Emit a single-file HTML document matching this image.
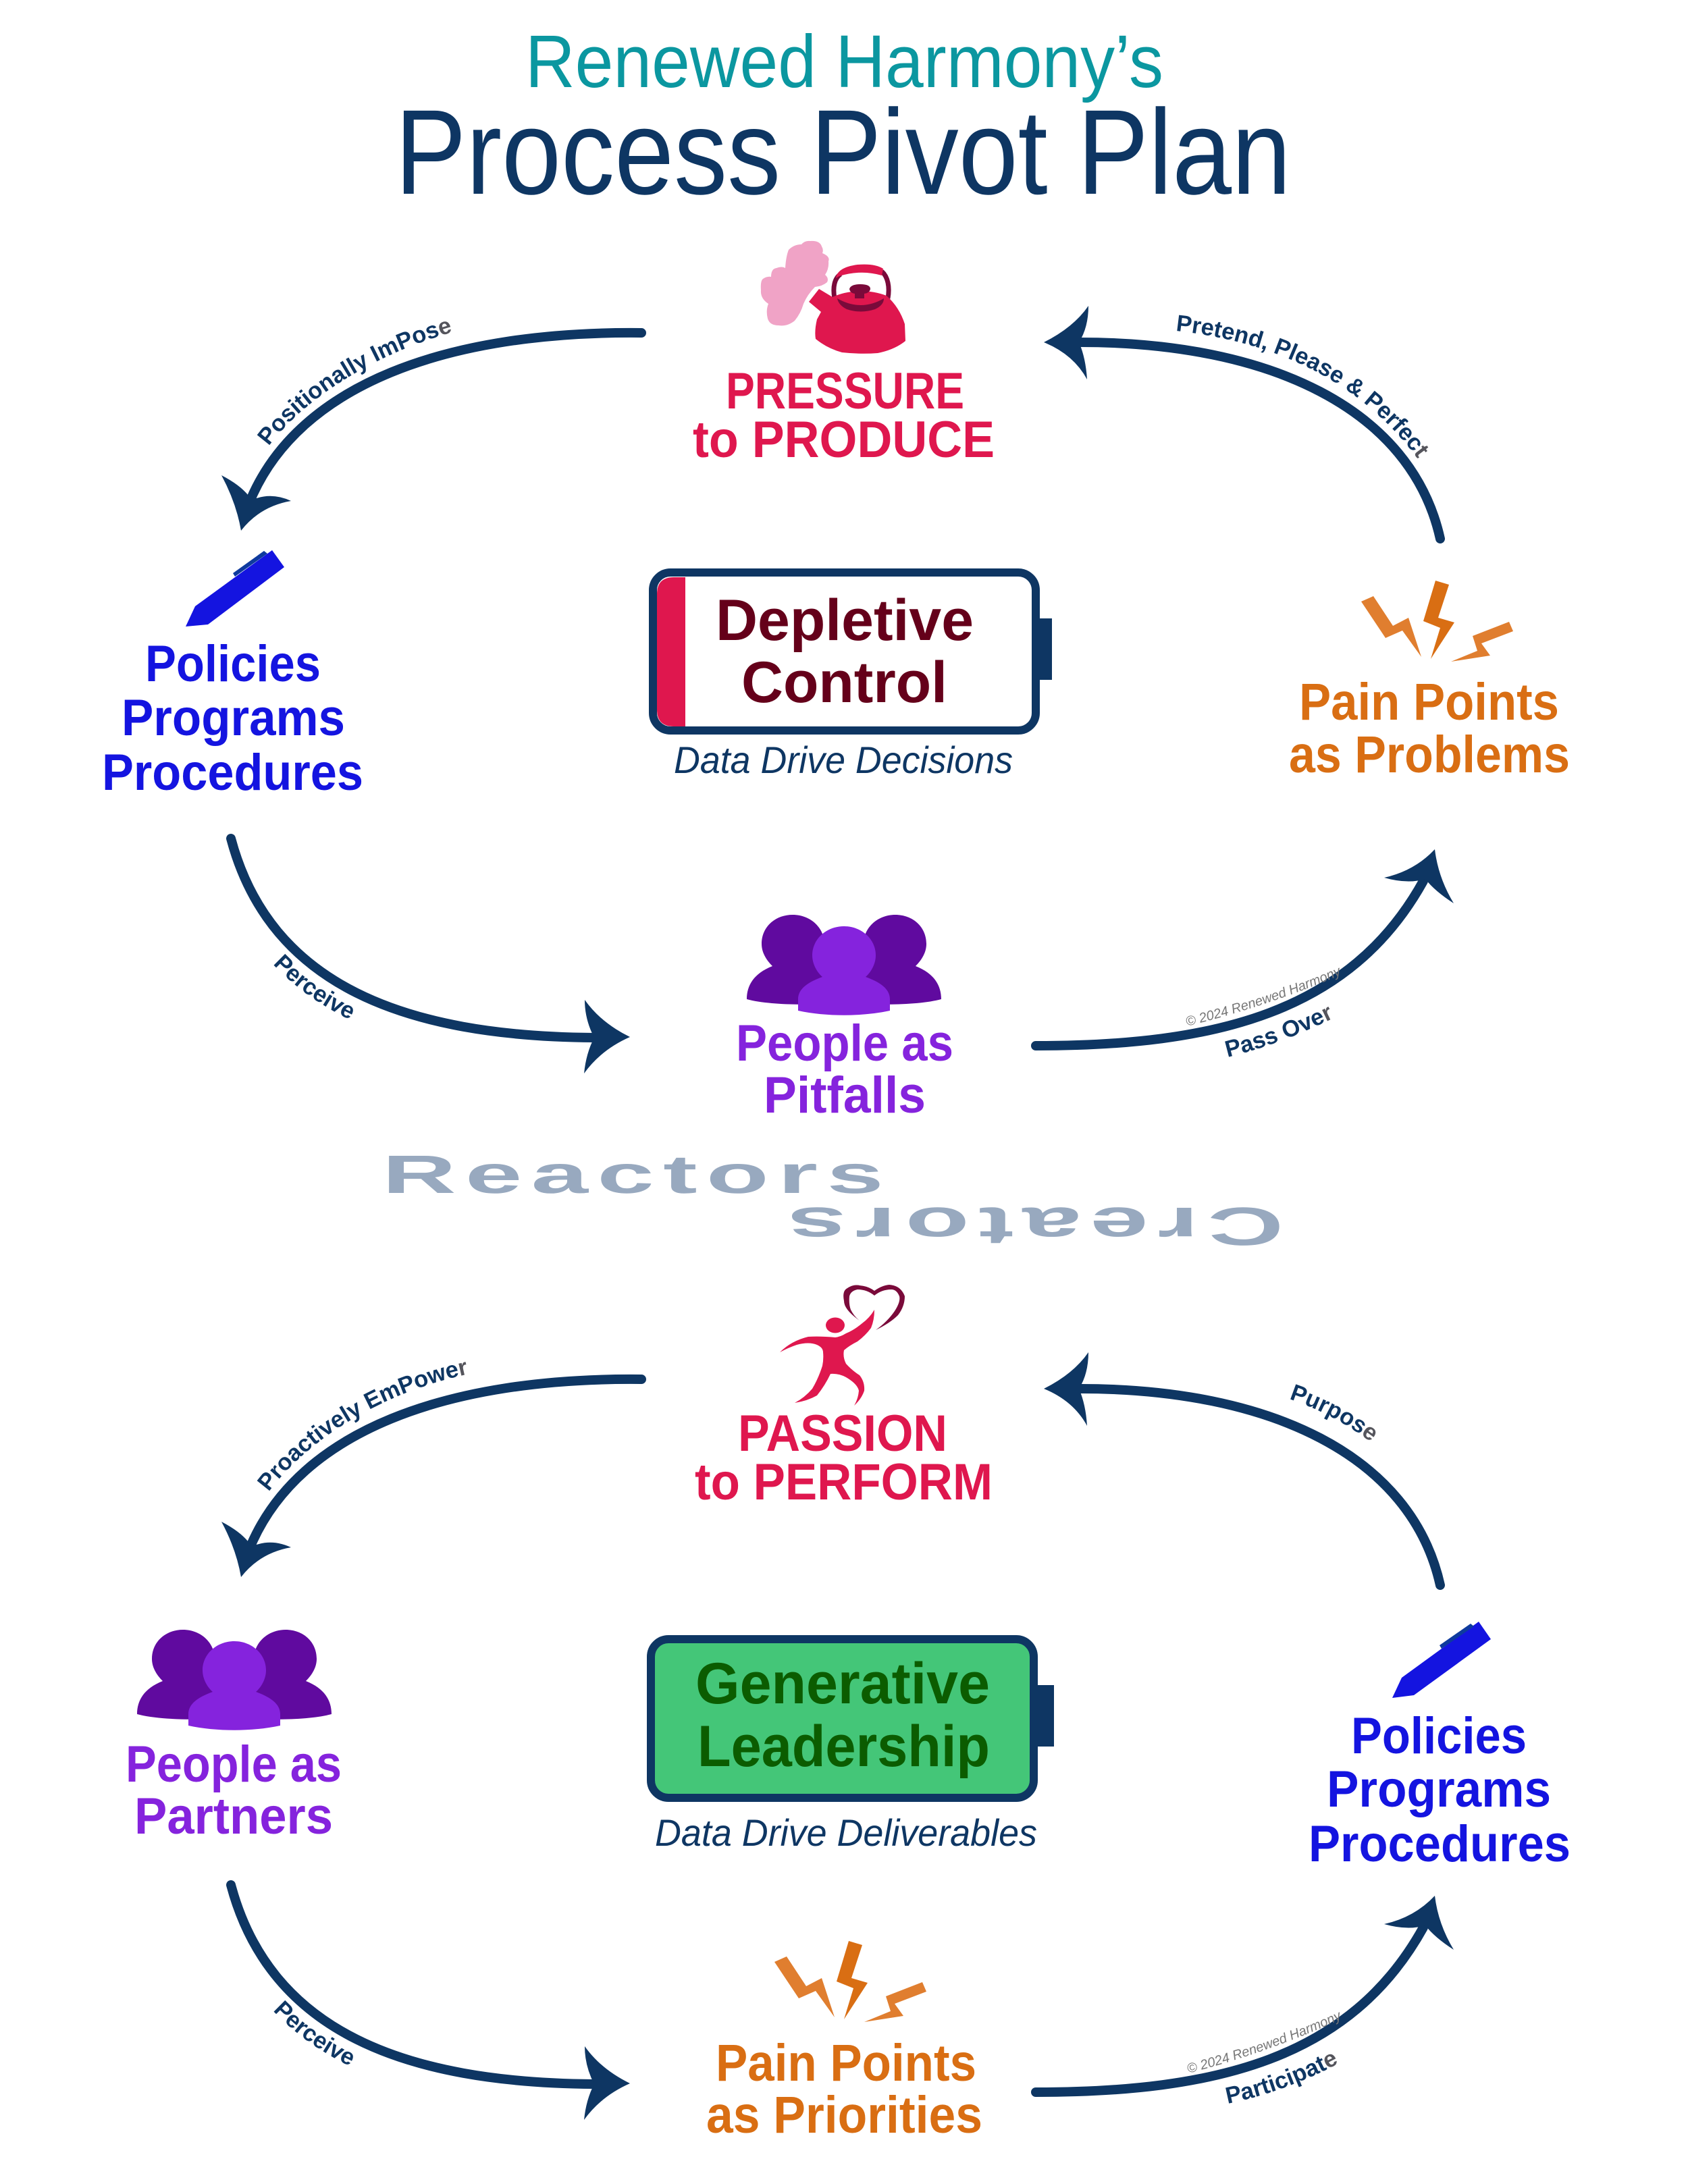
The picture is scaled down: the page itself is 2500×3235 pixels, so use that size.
<!DOCTYPE html>
<html>
<head>
<meta charset="utf-8">
<style>
html,body{margin:0;padding:0;background:#fff;width:2500px;height:3235px;overflow:hidden}
svg{display:block}
text{font-family:"Liberation Sans",sans-serif}
.b{font-weight:bold}
.lbl{font-weight:bold;font-size:34.5px;fill:#0E3663}
.g{fill:#55555c}
.cp{font-style:italic;font-size:20px;fill:#777}
.sub{font-style:italic;font-size:56px;fill:#0E3663}
.ls{letter-spacing:7px}
</style>
</head>
<body>
<svg width="2500" height="3235" viewBox="0 0 2500 3235" xmlns="http://www.w3.org/2000/svg">
<rect width="2500" height="3235" fill="#fff"/>
<defs>
  <g id="cycle">
    <g fill="none" stroke="#0E3663" stroke-width="14" stroke-linecap="round">
      <path d="M950,493 C660,490 445,570 372,738"/>
      <path d="M2133,798 C2090,605 1880,507 1600,507"/>
      <path d="M342,1242 C400,1460 600,1535 880,1537"/>
      <path d="M1534,1549 C1800,1549 2000,1500 2108,1305"/>
    </g>
    <g fill="#0E3663">
      <path d="M357,786 Q350,745 328,704 Q355,718 368,734 L380,738 Q405,730 431,742 Q385,750 357,786Z"/>
      <path d="M1546,507 Q1590,485 1612,453 Q1612,485 1598,507 Q1608,530 1610,562 Q1590,525 1546,507Z"/>
      <path d="M933,1536 Q890,1515 866,1481 Q866,1510 880,1537 Q868,1560 865,1590 Q890,1555 933,1536Z"/>
      <path d="M2125,1258 Q2095,1290 2050,1300 Q2085,1310 2111,1302 Q2125,1320 2153,1338 Q2130,1300 2125,1258Z"/>
    </g>
  </g>
  <g id="people">
    <g fill="#600A9F">
      <path d="M0,125 C0,105 10,87 38,76 C28,66 22,55 22,43 C22,18 42,0 68,0 C95,0 115,20 115,43 L115,100 L110,132 C70,134 25,132 0,125Z"/>
      <path d="M288,125 C288,105 278,87 250,76 C260,66 266,55 266,43 C266,18 246,0 220,0 C193,0 173,20 173,43 L173,100 L178,132 C218,134 263,132 288,125Z"/>
    </g>
    <path fill="#8523DD" d="M76,142 L76,125 C76,110 90,100 112,92 C103,84 97,72 97,60 C97,36 118,17 144,17 C170,17 191,36 191,60 C191,72 185,84 176,92 C198,100 212,110 212,125 L212,142 C170,151 118,151 76,142Z"/>
  </g>
  <g id="bolts">
    <polygon fill="#E07E2F" points="2016,891 2034,883 2063,927 2086,915 2105,973 2077,934 2052,945"/>
    <polygon fill="#D96E13" points="2126,860 2146,866 2130,915 2154,922 2119,976 2133,930 2108,920"/>
    <polygon fill="#E07E2F" points="2181,942 2235,921 2241,935 2194,953 2207,971 2149,980 2188,964"/>
  </g>
  <path id="p1" d="M398,661 C450,590 560,520 685,488"/>
  <path id="p2" d="M1741,490 C1880,505 2020,560 2112,697"/>
  <path id="p3" d="M404,1428 Q455,1482 530,1516"/>
  <path id="p4" d="M1818,1566 Q1893,1548 1975,1508"/>
  <path id="p5" d="M1758,1520 Q1880,1490 1995,1440"/>
  <path id="p6" d="M398,2210 C450,2139 560,2060 710,2032"/>
  <path id="p7" d="M1909,2072 Q1984,2097 2048,2150"/>
  <path id="p8" d="M404,2978 Q455,3032 530,3066"/>
  <path id="p9" d="M1818,3116 Q1908,3098 1998,3048"/>
  <path id="p10" d="M1760,3071 Q1880,3040 1995,2987"/>
</defs>

<!-- Title -->
<text x="778" y="129" font-size="110" fill="#0B97A0" textLength="945" lengthAdjust="spacingAndGlyphs">Renewed Harmony’s</text>
<text x="585" y="287" font-size="179" fill="#0E3663" textLength="1327" lengthAdjust="spacingAndGlyphs">Process Pivot Plan</text>

<use href="#cycle"/>
<use href="#cycle" y="1550"/>

<!-- Kettle -->
<path fill="#F0A3C6" d="M1200,357 Q1214,356 1217,365 Q1220,370 1218,375 Q1230,380 1227,387 Q1228,398 1222,407 Q1228,412 1225,418 Q1218,424 1207,425 Q1196,436 1190,450 Q1186,464 1177,475 Q1166,484 1153,482 Q1140,482 1137,472 Q1134,460 1138,450 Q1126,442 1127,430 Q1126,416 1130,413 Q1136,409 1142,410 Q1142,398 1150,397 Q1158,394 1163,397 Q1164,380 1168,370 Q1176,362 1187,362 Q1192,356 1200,357Z"/>
<path fill="none" stroke="#7A0A3A" stroke-width="7" d="M1236,442 C1233,425 1236,412 1245,406 M1315,442 C1318,425 1315,410 1306,402"/>
<path fill="#DF174E" d="M1238,412 Q1240,396 1270,392 Q1296,390 1308,398 L1306,408 Q1275,399 1243,409Z"/>
<path fill="#DF174E" d="M1213,428 L1198,447 L1216,462 L1210,473 Q1206,490 1208,502 Q1225,516 1247,522 Q1275,525 1300,523 Q1325,518 1341,505 L1340,480 Q1332,455 1313,438 Q1295,431 1273,431 Q1250,432 1233,440Z"/>
<path fill="#7A0A3A" d="M1240,442 Q1275,462 1309,442 Q1309,452 1296,458 Q1275,465 1254,458 Q1242,452 1240,442Z"/>
<path fill="#7A0A3A" d="M1258,428 Q1260,421 1274,421 Q1289,421 1289,428 Q1288,434 1280,435 L1280,442 L1266,442 L1266,435 Q1259,434 1258,428Z"/>
<text class="b" x="1075" y="605" font-size="76" fill="#DF174E" textLength="353" lengthAdjust="spacingAndGlyphs">PRESSURE</text>
<text class="b" x="1026" y="677" font-size="76" fill="#DF174E" textLength="447" lengthAdjust="spacingAndGlyphs">to PRODUCE</text>

<!-- Pen 1 -->
<polygon fill="#1414E0" points="275,928 289,898 403,815 421,840 308,925"/>
<polygon fill="#0E3A9E" points="345,849 391,816 396,820 348,854"/>
<text class="b" x="215" y="1009" font-size="76" fill="#1414E0" textLength="260" lengthAdjust="spacingAndGlyphs">Policies</text>
<text class="b" x="180" y="1089" font-size="76" fill="#1414E0" textLength="331" lengthAdjust="spacingAndGlyphs">Programs</text>
<text class="b" x="151" y="1170" font-size="76" fill="#1414E0" textLength="387" lengthAdjust="spacingAndGlyphs">Procedures</text>

<!-- Battery 1 -->
<rect x="1531" y="916" width="27" height="91" fill="#0E3663"/>
<rect x="967" y="848" width="567" height="234" rx="26" fill="#fff" stroke="#0E3663" stroke-width="12"/>
<path d="M1015,855 L1015,1076 L998,1076 Q973,1076 973,1051 L973,880 Q973,855 998,855Z" fill="#DF174E"/>
<text class="b" x="1060" y="948" font-size="86" fill="#65001A" textLength="382" lengthAdjust="spacingAndGlyphs">Depletive</text>
<text class="b" x="1098" y="1040" font-size="86" fill="#65001A" textLength="305" lengthAdjust="spacingAndGlyphs">Control</text>
<text class="sub" x="998" y="1145" textLength="502" lengthAdjust="spacingAndGlyphs">Data Drive Decisions</text>

<!-- Bolts top -->
<use href="#bolts"/>
<text class="b" x="1924" y="1066" font-size="77" fill="#D96E13" textLength="385" lengthAdjust="spacingAndGlyphs">Pain Points</text>
<text class="b" x="1909" y="1144" font-size="77" fill="#D96E13" textLength="416" lengthAdjust="spacingAndGlyphs">as Problems</text>

<!-- People top -->
<use href="#people" x="1106" y="1355"/>
<text class="b" x="1090" y="1571" font-size="76" fill="#8523DD" textLength="322" lengthAdjust="spacingAndGlyphs">People as</text>
<text class="b" x="1131" y="1648" font-size="76" fill="#8523DD" textLength="240" lengthAdjust="spacingAndGlyphs">Pitfalls</text>

<!-- Reactors / Creators -->
<text class="b ls" x="566" y="1767" font-size="80" fill="#98A9BF" textLength="756" lengthAdjust="spacingAndGlyphs">Reactors</text>
<text class="b ls" transform="translate(1901,1789) rotate(180)" x="0" y="0" font-size="80" fill="#98A9BF" textLength="748" lengthAdjust="spacingAndGlyphs">Creators</text>

<!-- Passion figure -->
<path fill="#7A0A3A" d="M1273,1956 Q1250,1940 1250,1927 Q1247,1912 1255,1908 Q1264,1902 1273,1904 Q1286,1905 1295,1912 Q1306,1904 1317,1903 Q1334,1904 1340,1920 Q1340,1935 1330,1948 Q1318,1960 1297,1970 Q1314,1958 1325,1942 Q1334,1928 1332,1920 Q1328,1910 1320,1910 Q1306,1910 1295,1919 Q1284,1910 1270,1910 Q1260,1912 1258,1920 Q1257,1932 1260,1940 Q1265,1950 1273,1956Z"/>
<ellipse cx="1237" cy="1963" rx="14" ry="11.5" fill="#DF174E"/>
<path fill="#DF174E" d="M1295,1940 Q1288,1952 1277,1960 Q1265,1970 1253,1975 Q1245,1980 1237,1981 Q1215,1979 1197,1980 Q1172,1986 1155,2003 Q1168,1996 1180,1992 Q1198,1987 1210,1992 Q1219,1996 1219,2003 Q1220,2013 1218,2023 Q1212,2042 1203,2057 Q1192,2070 1177,2078 Q1196,2075 1210,2067 Q1222,2052 1230,2035 Q1242,2034 1253,2040 Q1270,2050 1272,2060 Q1271,2072 1265,2082 Q1276,2072 1280,2060 Q1281,2047 1273,2037 Q1262,2030 1253,2020 Q1248,2010 1250,2000 Q1258,1993 1270,1987 Q1282,1978 1290,1967 Q1295,1955 1295,1940Z"/>
<text class="b" x="1093" y="2149" font-size="76" fill="#DF174E" textLength="310" lengthAdjust="spacingAndGlyphs">PASSION</text>
<text class="b" x="1029" y="2221" font-size="76" fill="#DF174E" textLength="441" lengthAdjust="spacingAndGlyphs">to PERFORM</text>

<!-- People bottom -->
<use href="#people" x="203" y="2414"/>
<text class="b" x="186" y="2639" font-size="76" fill="#8523DD" textLength="320" lengthAdjust="spacingAndGlyphs">People as</text>
<text class="b" x="199" y="2716" font-size="76" fill="#8523DD" textLength="294" lengthAdjust="spacingAndGlyphs">Partners</text>

<!-- Battery 2 -->
<rect x="1535" y="2496" width="26" height="91" fill="#0E3663"/>
<rect x="964" y="2428" width="567" height="235" rx="26" fill="#44C678" stroke="#0E3663" stroke-width="12"/>
<text class="b" x="1030" y="2523" font-size="86" fill="#0B5C00" textLength="436" lengthAdjust="spacingAndGlyphs">Generative</text>
<text class="b" x="1033" y="2616" font-size="86" fill="#0B5C00" textLength="433" lengthAdjust="spacingAndGlyphs">Leadership</text>
<text class="sub" x="970" y="2734" textLength="566" lengthAdjust="spacingAndGlyphs">Data Drive Deliverables</text>

<!-- Pen 2 -->
<polygon fill="#1414E0" points="2062,2515 2076,2485 2190,2402 2208,2428 2094,2511"/>
<polygon fill="#0E3A9E" points="2132,2437 2178,2405 2183,2409 2135,2442"/>
<text class="b" x="2001" y="2597" font-size="76" fill="#1414E0" textLength="260" lengthAdjust="spacingAndGlyphs">Policies</text>
<text class="b" x="1965" y="2676" font-size="76" fill="#1414E0" textLength="332" lengthAdjust="spacingAndGlyphs">Programs</text>
<text class="b" x="1938" y="2757" font-size="76" fill="#1414E0" textLength="388" lengthAdjust="spacingAndGlyphs">Procedures</text>

<!-- Bolts bottom -->
<use href="#bolts" transform="translate(-869,2015)"/>
<text class="b" x="1060" y="3082" font-size="77" fill="#D96E13" textLength="386" lengthAdjust="spacingAndGlyphs">Pain Points</text>
<text class="b" x="1046" y="3159" font-size="77" fill="#D96E13" textLength="409" lengthAdjust="spacingAndGlyphs">as Priorities</text>

<!-- Connector labels -->
<text class="lbl"><textPath href="#p1">Positionally ImPos<tspan class="g">e</tspan></textPath></text>
<text class="lbl"><textPath href="#p2">Pretend, Please &amp; Perfec<tspan class="g">t</tspan></textPath></text>
<text class="lbl"><textPath href="#p3">Perceive</textPath></text>
<text class="lbl"><textPath href="#p4">Pass Ove<tspan class="g">r</tspan></textPath></text>
<text class="cp"><textPath href="#p5">© 2024 Renewed Harmony</textPath></text>
<text class="lbl"><textPath href="#p6">Proactively EmPowe<tspan class="g">r</tspan></textPath></text>
<text class="lbl"><textPath href="#p7">Purpos<tspan class="g">e</tspan></textPath></text>
<text class="lbl"><textPath href="#p8">Perceive</textPath></text>
<text class="lbl"><textPath href="#p9">Participat<tspan class="g">e</tspan></textPath></text>
<text class="cp"><textPath href="#p10">© 2024 Renewed Harmony</textPath></text>
</svg>
</body>
</html>
